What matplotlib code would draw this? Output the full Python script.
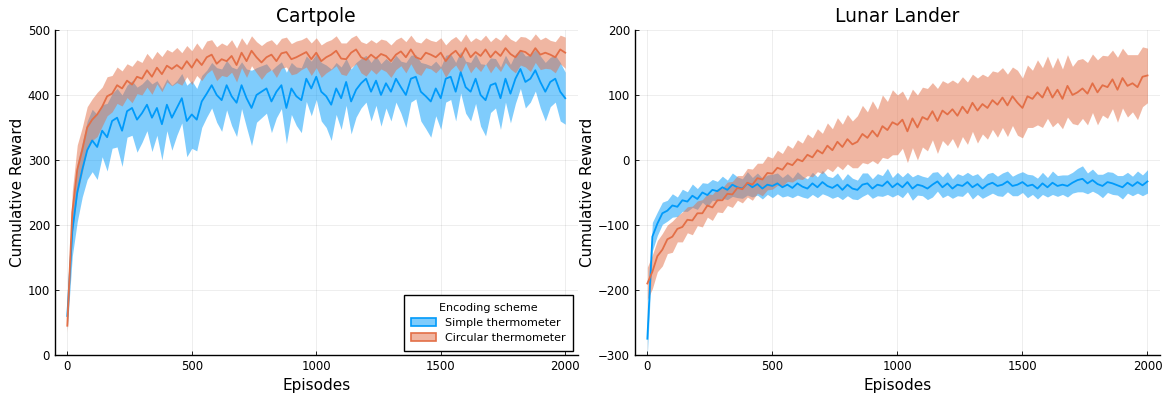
import numpy as np
import matplotlib
matplotlib.use("Agg")
import matplotlib.pyplot as plt
from matplotlib.patches import Patch
from matplotlib.colors import to_rgba

# episodes sampled every 20
episodes = np.arange(0, 2001, 20)

# Cartpole
cart_simple = [60, 190, 250, 285, 315, 330, 320, 345, 335, 360,
               365, 345, 375, 380, 362, 372, 385, 365, 380, 355,
               385, 365, 380, 395, 360, 370, 362, 390, 402, 415,
               400, 392, 415, 398, 388, 415, 395, 380, 400, 405,
               410, 390, 405, 415, 380, 410, 398, 392, 425, 410,
               428, 405, 398, 385, 410, 395, 420, 390, 408, 418,
               425, 405, 422, 400, 418, 405, 425, 412, 400, 425,
               428, 405, 398, 390, 410, 395, 425, 428, 405, 435,
               412, 405, 425, 400, 392, 415, 418, 395, 425, 402,
               425, 440, 420, 425, 438, 420, 405, 420, 425, 405,
               395]
cart_simple_err = [20, 38, 45, 42, 45, 48, 50, 40, 52, 42,
                   45, 55, 40, 42, 50, 45, 40, 52, 42, 55,
                   40, 50, 42, 38, 55, 52, 48, 40, 36, 35,
                   42, 48, 38, 45, 52, 36, 45, 58, 42, 40,
                   38, 48, 40, 36, 55, 40, 45, 50, 35, 42,
                   35, 45, 48, 55, 40, 48, 36, 50, 42, 38,
                   36, 45, 38, 48, 38, 45, 36, 40, 50, 36,
                   34, 45, 50, 55, 42, 48, 36, 35, 45, 32,
                   40, 45, 38, 48, 55, 42, 38, 48, 36, 45,
                   38, 30, 40, 36, 32, 40, 45, 38, 36, 45,
                   40]
cart_circular = [45, 220, 285, 315, 350, 362, 370, 382, 398, 402,
                 415, 410, 422, 416, 428, 425, 438, 428, 442, 432,
                 445, 440, 446, 440, 452, 442, 455, 446, 458, 462,
                 448, 455, 452, 460, 446, 465, 452, 468, 458, 450,
                 458, 462, 452, 464, 466, 455, 458, 462, 466, 455,
                 465, 452, 458, 462, 468, 456, 455, 465, 470, 458,
                 454, 462, 456, 463, 460, 452, 462, 467, 458, 470,
                 458, 455, 465, 462, 458, 465, 452, 462, 468, 458,
                 472, 458, 466, 460, 470, 458, 467, 460, 472, 463,
                 458, 468, 466, 460, 472, 462, 465, 462, 458, 470,
                 465]
cart_circular_err = [10, 32, 38, 35, 32, 32, 34, 30, 30, 28,
                     28, 27, 26, 28, 26, 25, 26, 27, 25, 27,
                     25, 26, 27, 25, 24, 26, 25, 24, 25, 23,
                     26, 25, 24, 25, 26, 23, 25, 23, 24, 26,
                     24, 23, 25, 23, 23, 24, 25, 23, 23, 25,
                     23, 25, 24, 23, 23, 24, 25, 23, 22, 24,
                     25, 23, 24, 23, 24, 25, 23, 22, 24, 22,
                     24, 25, 23, 22, 24, 23, 25, 23, 22, 24,
                     22, 24, 22, 24, 22, 24, 22, 24, 22, 23,
                     24, 22, 23, 24, 22, 23, 24, 22, 24, 22,
                     24]

# Lunar Lander
lunar_simple = [-275, -118, -98, -82, -78, -70, -72, -62, -64, -55,
                -60, -50, -54, -46, -48, -42, -46, -38, -42, -44,
                -36, -42, -37, -44, -38, -40, -36, -42, -38, -43,
                -36, -41, -44, -36, -42, -34, -40, -43, -38, -46,
                -38, -44, -46, -38, -36, -44, -38, -40, -33, -42,
                -36, -42, -34, -44, -38, -40, -44, -38, -33, -42,
                -36, -44, -38, -40, -34, -42, -37, -44, -38, -35,
                -40, -38, -33, -40, -38, -34, -40, -38, -44, -36,
                -42, -35, -40, -38, -40, -35, -31, -29, -36, -31,
                -37, -40, -34, -36, -39, -42, -35, -40, -34, -39,
                -33]
lunar_simple_err = [25, 22, 18, 17, 16, 18, 15, 17, 15, 18,
                    16, 15, 18, 16, 15, 17, 15, 18, 16, 15,
                    18, 15, 17, 16, 15, 18, 16, 15, 17, 15,
                    18, 16, 15, 17, 16, 18, 15, 16, 18, 15,
                    17, 16, 15, 18, 16, 15, 17, 16, 20, 15,
                    17, 16, 15, 18, 16, 15, 17, 19, 15, 16,
                    18, 15, 17, 16, 15, 18, 16, 15, 17, 16,
                    15, 18, 16, 15, 17, 16, 18, 15, 16, 17,
                    15, 18, 16, 15, 17, 16, 18, 20, 16, 17,
                    15, 18, 16, 17, 15, 18, 16, 15, 17, 16,
                    18]
lunar_circular = [-190, -172, -148, -138, -122, -118, -106, -103, -92, -93,
                  -82, -82, -70, -73, -62, -62, -52, -53, -43, -45,
                  -35, -38, -28, -30, -20, -21, -12, -15, -5, -8,
                  1, -2, 8, 4, 15, 10, 22, 15, 28, 20,
                  32, 24, 28, 40, 34, 45, 36, 52, 46, 58,
                  54, 62, 44, 64, 50, 66, 62, 75, 60, 76,
                  70, 78, 68, 82, 72, 88, 76, 86, 80, 92,
                  85, 96, 84, 98, 88, 80, 98, 94, 104, 96,
                  112, 96, 108, 94, 114, 100, 104, 110, 102, 118,
                  104, 115, 112, 124, 108, 126, 114, 118, 112, 128,
                  130]
lunar_circular_err = [25, 26, 24, 25, 22, 24, 20, 23, 20, 22,
                      19, 21, 18, 20, 18, 19, 18, 20, 19, 21,
                      22, 24, 23, 25, 26, 24, 27, 25, 28, 26,
                      30, 28, 32, 30, 33, 31, 35, 33, 37, 35,
                      38, 36, 40, 44, 40, 46, 42, 48, 44, 50,
                      46, 44, 48, 45, 50, 46, 48, 44, 50, 46,
                      48, 45, 50, 46, 48, 44, 50, 46, 48, 45,
                      50, 46, 48, 45, 50, 46, 48, 44, 50, 46,
                      48, 45, 50, 46, 48, 44, 50, 46, 48, 45,
                      50, 46, 48, 45, 50, 46, 48, 44, 50, 46,
                      42]

labels = ["Simple thermometer", "Circular thermometer"]
blue = "#009AFA"
orange = "#E36F47"

plt.rcParams['font.family'] = ['DejaVu Sans']

fig = plt.figure(figsize=(11.67, 3.94), dpi=100)
ax1 = fig.add_axes([0.047, 0.099, 0.448, 0.825])
ax2 = fig.add_axes([0.544, 0.099, 0.450, 0.825])


def draw(ax, series, title, ylim, yticks):
    for mean, err, c in series:
        mean = np.array(mean, dtype=float)
        err = np.array(err, dtype=float)
        ax.fill_between(episodes, mean - err, mean + err, color=c, alpha=0.5, lw=0)
        ax.plot(episodes, mean, color=c, lw=1.3)
    ax.set_xlim(-50, 2050)
    ax.set_ylim(*ylim)
    ax.set_xticks([0, 500, 1000, 1500, 2000])
    ax.set_yticks(yticks)
    ax.grid(True, color="black", alpha=0.08, lw=0.6)
    ax.set_axisbelow(True)
    for s in ["top", "right"]:
        ax.spines[s].set_visible(False)
    for s in ["left", "bottom"]:
        ax.spines[s].set_linewidth(1.0)
    ax.tick_params(direction="in", length=3, width=0.6, labelsize=8.5)
    ax.set_title(title, fontsize=13.5)
    ax.set_xlabel("Episodes", fontsize=11)
    ax.set_ylabel("Cumulative Reward", fontsize=11, labelpad=2)


draw(ax1, [(cart_simple, cart_simple_err, blue),
           (cart_circular, cart_circular_err, orange)],
     "Cartpole", (0, 500), [0, 100, 200, 300, 400, 500])
draw(ax2, [(lunar_simple, lunar_simple_err, blue),
           (lunar_circular, lunar_circular_err, orange)],
     "Lunar Lander", (-300, 200), [-300, -200, -100, 0, 100, 200])

handles = [Patch(facecolor=to_rgba(c, 0.5), edgecolor=c, lw=1.2)
           for c in [blue, orange]]
leg = ax1.legend(handles, labels, title="Encoding scheme", loc="lower right",
                 fontsize=8, title_fontsize=8, fancybox=False, framealpha=1,
                 edgecolor="black", borderaxespad=0.4, handlelength=2.2,
                 borderpad=0.7, labelspacing=0.45)
leg.get_frame().set_linewidth(1.0)

fig.savefig("out.png", dpi=100)
